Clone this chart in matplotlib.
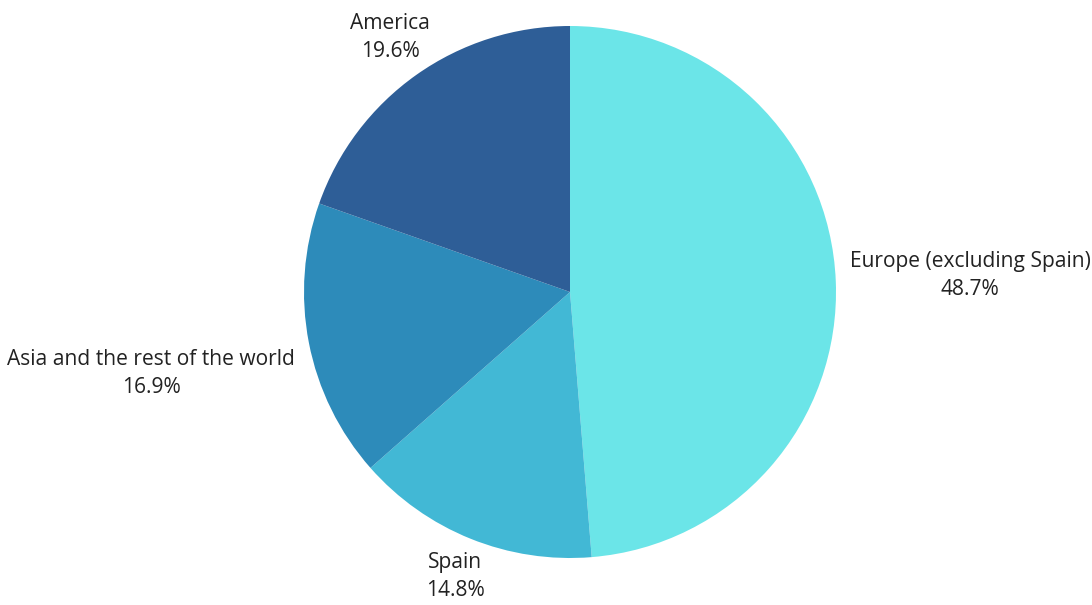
import numpy as np
import matplotlib
matplotlib.use('Agg')
import matplotlib.pyplot as plt

# Share of sales by region (clockwise from 12 o'clock)
regions = ['Europe (excluding Spain)', 'Spain', 'Asia and the rest of the world', 'America']
shares = [48.7, 14.8, 16.9, 19.6]
colors = ['#6be5e8', '#42b8d5', '#2d8bba', '#2e5e97']

plt.rcParams['font.family'] = ['Open Sans', 'DejaVu Sans']


def main():
    fig = plt.figure(figsize=(10.92, 6.05), dpi=100)
    # pie centre at (570, 292) px, radius 266 px
    ax = fig.add_axes([304 / 1092, 47 / 605, 532 / 1092, 532 / 605])
    wedges, _ = ax.pie(shares, colors=colors, startangle=90, counterclock=False,
                       radius=1, wedgeprops=dict(linewidth=0))
    ax.set_xlim(-1, 1)
    ax.set_ylim(-1, 1)
    ax.set_aspect('equal')
    ax.axis('off')

    fig.canvas.draw()
    renderer = fig.canvas.get_renderer()
    px = 266.0  # pixels per data unit
    r0 = 1.03
    pad = 6
    for w, name, val in zip(wedges, regions, shares):
        theta = np.deg2rad((w.theta1 + w.theta2) / 2)
        c, s = np.cos(theta), np.sin(theta)
        t = ax.text(0, 0, f'{name}\n{val:.1f}%', ha='center', va='center',
                    fontsize=15.1, color='#222222', linespacing=1.45)
        bb = t.get_window_extent(renderer)
        hw, hh = (bb.width / 2 + pad) / px, (bb.height / 2 + pad) / px
        d = min(hw / max(abs(c), 1e-6), hh / max(abs(s), 1e-6))
        r = r0 + d
        t.set_position((r * c, r * s))

    fig.savefig('out.png', dpi=100)


if __name__ == '__main__':
    main()
